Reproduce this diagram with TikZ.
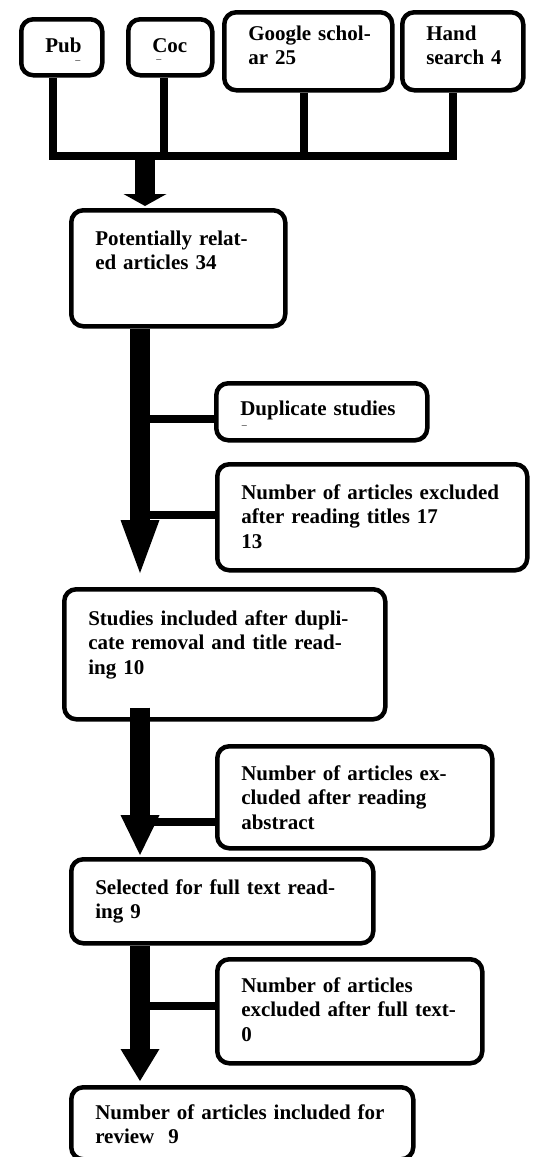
\documentclass[tikz,border=0pt]{standalone}
\usepackage{fontspec}
\setmainfont{Liberation Serif}
\usetikzlibrary{arrows.meta,calc}

\begin{document}
\begin{tikzpicture}[
    x=1pt, y=-1pt,
    box/.style={draw, line width=4.5pt, rounded corners=12pt, anchor=north west, align=left, inner xsep=24pt, inner ysep=0pt, text height=35pt, font=\fontsize{21}{24.5}\selectfont\bfseries},
    feed/.style={line width=8pt},
    bigarrow/.style={line width=20pt},
    stray/.style={inner sep=0pt, font=\fontsize{10}{10}\selectfont}
]
    \useasboundingbox (0,0) rectangle (540,1157);

    % Sources
    \node [box, text width=33pt, text height=33pt, text depth=23pt] (pub) at (19,17) {Pub};
    \node [box, text width=36pt, text height=33pt, text depth=23pt] (coc) at (126,17) {Coc};
    \node [box, text width=120pt, text height=28pt, text depth=50pt] (gs) at (222,10) {\mbox{Google schol-}\\ar 25};
    \node [box, text width=73pt, text height=28pt, text depth=50pt] (hand) at (400,10) {Hand\\\mbox{search 4}};

    \node [stray] (pubdash) at ($(pub.center)+(16,15)$) {\textendash};
    \node [stray] (cocdash) at ($(coc.center)+(-11.5,14)$) {\textendash};

    % Main column
    \node [box, text width=166pt, text depth=81pt] (related) at (69,208) {Potentially relat-\\ed articles 34};
    \node [box, text width=273pt, text height=36pt, text depth=94pt] (included) at (62,587) {Studies included after dupli-\\cate removal and title read-\\ing 10};
    \node [box, text width=254pt, text depth=49pt] (selected) at (69,857) {Selected for full text read-\\ing 9};
    \node [box, text width=294pt, text height=32pt, text depth=40pt] (review) at (69,1085) {Number of articles included for\\review~~9};

    % Exclusions
    \node [box, text width=163pt, text height=32pt, text depth=25pt] (dup) at (214,381) {Duplicate studies};
    \node [stray] (dupdash) at ($(dup.center)+(-77.5,15)$) {\textendash};
    \node [box, text width=262pt, text depth=71pt] (titles) at (215,462) {Number of articles excluded\\after reading titles 17\\13};
    \node [box, text width=227pt, text height=34pt, text depth=68pt] (abstract) at (215,744) {Number of articles ex-\\cluded after reading\\abstract};
    \node [box, text width=217pt, text height=33pt, text depth=71pt] (fulltext) at (215,957) {Number of articles\\excluded after full text-\\0};

    % Connections
    \coordinate (bus) at (0,156);
    \coordinate (pubdrop) at ([xshift=-8.5pt]pub.south);
    \coordinate (cocdrop) at ([xshift=-6pt]coc.south);
    \coordinate (gsdrop) at ([xshift=-4pt]gs.south);
    \coordinate (handdrop) at ([xshift=-9.5pt]hand.south);
    \draw [feed] (pubdrop) |- (handdrop |- bus) -- (handdrop);
    \draw [feed] (cocdrop) -- (cocdrop |- bus);
    \draw [feed] (gsdrop) -- (gsdrop |- bus);

    \coordinate (drop) at (145,156);
    \coordinate (spine) at (140,0);

    \draw [feed] ($(spine |- dup.west)+(0,7.5)$) -- ($(dup.west)+(0,7.5)$);
    \draw [feed] ($(spine |- titles.west)+(0,-2)$) -- ($(titles.west)+(0,-2)$);
    \draw [feed] ($(spine |- abstract.west)+(0,25)$) -- ($(abstract.west)+(0,25)$);
    \draw [feed] ($(spine |- fulltext.west)+(0,-5)$) -- ($(fulltext.west)+(0,-5)$);

    \draw [bigarrow, -{Triangle[length=12pt, width=43pt, line width=0pt]}] (drop) -- ($(drop |- related.north)+(0,-2)$);
    \draw [bigarrow, -{Triangle[length=53pt, width=39pt, line width=0pt]}] (spine |- related.south) -- ($(spine |- included.north)+(0,-14)$);
    \draw [bigarrow, -{Triangle[length=40pt, width=39pt, line width=0pt]}] ($(spine |- included.south)+(0,-14)$) -- ($(spine |- selected.north)+(0,-2)$);
    \draw [bigarrow, -{Triangle[length=32pt, width=39pt, line width=0pt]}] (spine |- selected.south) -- ($(spine |- review.north)+(0,-4)$);

\end{tikzpicture}
\end{document}
